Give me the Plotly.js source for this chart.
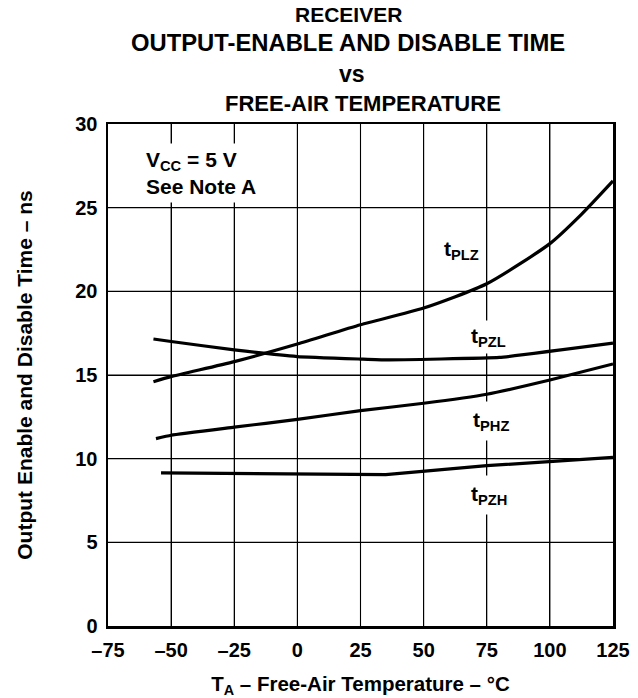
<!DOCTYPE html>
<html>
<head>
<meta charset="utf-8">
<script src="https://cdn.plot.ly/plotly-3.0.1.min.js"></script>
<style>html,body{margin:0;padding:0;background:#fff;}#chart{width:638px;height:698px;}</style>
</head>
<body>
<div id="chart"></div>
<script>
// Data
const tPLZ_T = [-57, -50, -25, 0, 25, 50, 75, 100, 112.5, 125];
const tPLZ_V = [14.6, 14.9, 15.8, 16.85, 18.0, 19.0, 20.45, 22.85, 24.6, 26.6];
const tPZL_T = [-57, -50, -25, 0, 25, 35, 80, 125];
const tPZL_V = [17.15, 17.0, 16.5, 16.1, 15.95, 15.9, 16.05, 16.9];
const tPHZ_T = [-56, -50, -25, 0, 25, 50, 75, 100, 125];
const tPHZ_V = [11.2, 11.4, 11.88, 12.35, 12.87, 13.31, 13.85, 14.7, 15.66];
const tPZH_T = [-54, 35, 75, 100, 125];
const tPZH_V = [9.15, 9.05, 9.58, 9.82, 10.08];

const xTicks = [-75, -50, -25, 0, 25, 50, 75, 100, 125];
const yTicks = [0, 5, 10, 15, 20, 25, 30];

const FONT = "Liberation Sans, Arial, sans-serif";
const f = (size) => ({family: FONT, size: size, color: '#000', weight: 'bold'});

const xMin = xTicks[0], xMax = xTicks[xTicks.length - 1];
const yMin = yTicks[0], yMax = yTicks[yTicks.length - 1];

// Grid lines at the tick values, drawn as one line trace through the axes' scales
const gridX = [], gridY = [];
xTicks.slice(1, -1).forEach(v => { gridX.push(v, v, null); gridY.push(yMin, yMax, null); });
yTicks.slice(1, -1).forEach(v => { gridX.push(xMin, xMax, null); gridY.push(v, v, null); });

const traces = [
  {x: gridX, y: gridY, mode: 'lines', line: {color: '#000', width: 1.1}, hoverinfo: 'skip', name: 'grid', connectgaps: false},
  {x: tPLZ_T, y: tPLZ_V, mode: 'lines', line: {color: '#000', width: 3.2, shape: 'spline', smoothing: 0.6}, name: 'tPLZ'},
  {x: tPZL_T, y: tPZL_V, mode: 'lines', line: {color: '#000', width: 3.2, shape: 'spline', smoothing: 0.3}, name: 'tPZL'},
  {x: tPHZ_T, y: tPHZ_V, mode: 'lines', line: {color: '#000', width: 3.2, shape: 'spline', smoothing: 0.4}, name: 'tPHZ'},
  {x: tPZH_T, y: tPZH_V, mode: 'lines', line: {color: '#000', width: 3.2, shape: 'linear'}, name: 'tPZH'}
];

const plotLeft = 108, plotRight = 613, plotTop = 124, plotBottom = 626;
const plotW = plotRight - plotLeft, plotH = plotBottom - plotTop;
const titleLines = [
  {text: 'RECEIVER', size: 21, px: 15, cx: 348},
  {text: 'OUTPUT-ENABLE AND DISABLE TIME', size: 23.8, px: 43, cx: 348},
  {text: 'vs', size: 23, px: 74, cx: 352},
  {text: 'FREE-AIR TEMPERATURE', size: 22, px: 103, cx: 363}
];

const annotations = titleLines.map(t => ({
  text: t.text, xref: 'paper', yref: 'paper', x: (t.cx - plotLeft) / plotW, y: (plotBottom - t.px) / plotH,
  xanchor: 'center', yanchor: 'middle', showarrow: false, font: f(t.size)
}));

annotations.push(
  {text: 'V<sub>CC</sub> = 5 V<br>See Note A', xref: 'x', yref: 'y', x: -62, y: 27.05,
   xanchor: 'left', yanchor: 'middle', align: 'left', showarrow: false, font: f(21),
   bgcolor: '#fff', borderpad: 4},
  {text: 't<sub>PLZ</sub>', xref: 'x', yref: 'y', x: 65, y: 22.5, showarrow: false,
   font: f(21), bgcolor: '#fff', borderpad: 6},
  {text: 't<sub>PZL</sub>', xref: 'x', yref: 'y', x: 75.5, y: 17.3, showarrow: false,
   font: f(21), bgcolor: '#fff', borderpad: 3},
  {text: 't<sub>PHZ</sub>', xref: 'x', yref: 'y', x: 76.6, y: 12.28, showarrow: false,
   font: f(21), bgcolor: '#fff', borderpad: 6},
  {text: 't<sub>PZH</sub>', xref: 'x', yref: 'y', x: 75.9, y: 7.8, showarrow: false,
   font: f(21), bgcolor: '#fff', borderpad: 6}
);

const layout = {
  width: 638, height: 698,
  margin: {l: plotLeft, r: 638 - plotRight, t: plotTop, b: 698 - plotBottom, pad: 0},
  paper_bgcolor: '#fff', plot_bgcolor: '#fff',
  showlegend: false,
  font: f(20),
  xaxis: {
    range: [xMin, xMax], tickmode: 'array', tickvals: xTicks,
    ticktext: xTicks.map(v => v < 0 ? '\u2013' + Math.abs(v) : String(v)),
    showgrid: true, gridcolor: '#000', gridwidth: 1, zeroline: false,
    showline: true, linecolor: '#000', linewidth: 2.5, mirror: true,
    ticks: '', tickfont: f(20), ticklabelstandoff: 4,
    title: {text: 'T<sub>A</sub> \u2013 Free-Air Temperature \u2013 \u00B0C', font: f(20.5), standoff: 18},
    automargin: false
  },
  yaxis: {
    range: [yMin, yMax], tickmode: 'array', tickvals: yTicks, ticktext: yTicks.map(String),
    showgrid: true, gridcolor: '#000', gridwidth: 1, zeroline: false,
    showline: true, linecolor: '#000', linewidth: 2.5, mirror: true,
    ticks: '', tickfont: f(20), ticklabelstandoff: 4,
    title: {text: 'Output Enable and Disable Time \u2013 ns', font: f(21), standoff: 37},
    automargin: false
  },
  annotations: annotations
};

Plotly.newPlot('chart', traces, layout, {staticPlot: true});
</script>
</body>
</html>
